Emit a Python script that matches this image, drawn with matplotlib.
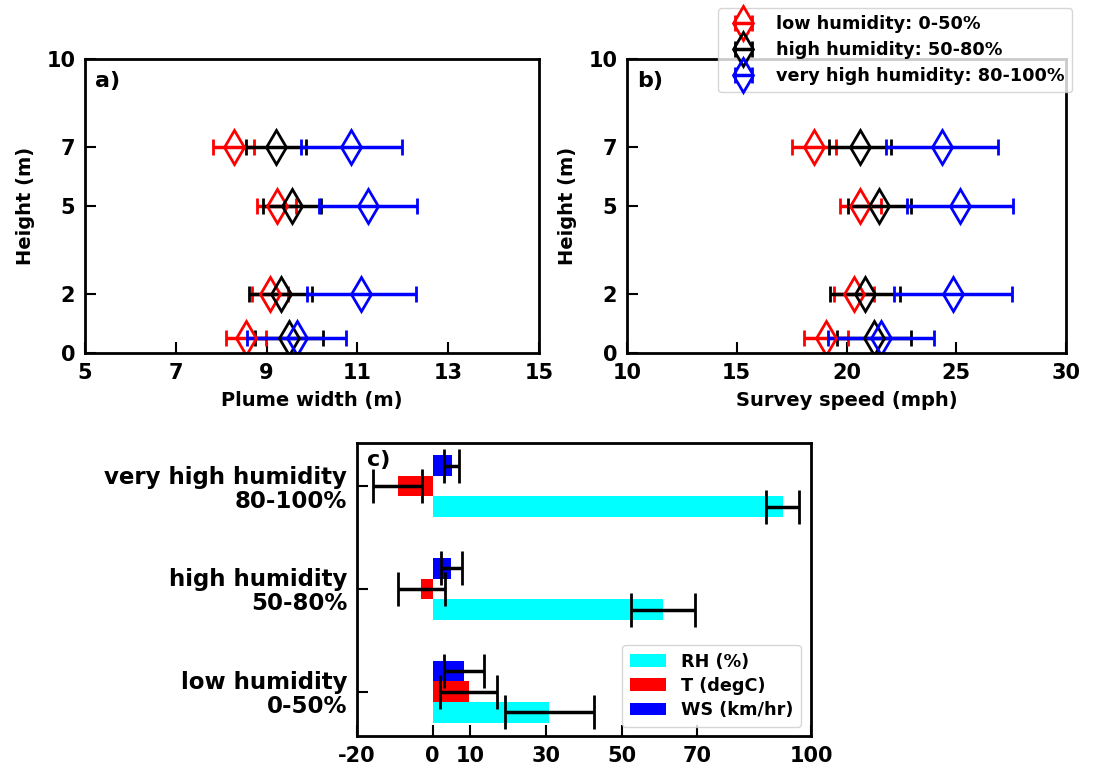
import numpy as np
import matplotlib
matplotlib.use("Agg")
import matplotlib.pyplot as plt

plt.rcParams["font.family"] = "DejaVu Sans"
plt.rcParams["font.weight"] = "bold"
plt.rcParams["axes.labelweight"] = "bold"
plt.rcParams["axes.unicode_minus"] = False

# heights (m)
heights = [0.5, 2, 5, 7]

# plume width (m): mean and error, per humidity class
width_low = [8.54, 9.08, 9.22, 8.28]
width_low_err = [0.44, 0.39, 0.42, 0.45]
width_high = [9.50, 9.31, 9.57, 9.20]
width_high_err = [0.75, 0.70, 0.64, 0.66]
width_vhigh = [9.66, 11.09, 11.24, 10.87]
width_vhigh_err = [1.10, 1.20, 1.08, 1.12]

# survey speed (mph)
speed_low = [19.08, 20.33, 20.63, 18.53]
speed_low_err = [1.00, 0.90, 0.94, 1.00]
speed_high = [21.25, 20.84, 21.50, 20.61]
speed_high_err = [1.67, 1.60, 1.45, 1.40]
speed_vhigh = [21.57, 24.85, 25.17, 24.34]
speed_vhigh_err = [2.43, 2.69, 2.40, 2.55]

series_labels = ["low humidity: 0-50%", "high humidity: 50-80%",
                 "very high humidity: 80-100%"]
series_colors = ["red", "black", "blue"]

# panel c: met conditions per humidity class (low, high, very high)
classes = ["low humidity\n0-50%", "high humidity\n50-80%",
           "very high humidity\n80-100%"]
rh = [30.8, 60.9, 92.5]
rh_err = [11.75, 8.45, 4.3]
temp = [9.5, -3.0, -9.25]
temp_err = [7.5, 6.2, 6.5]
ws = [8.4, 4.9, 5.0]
ws_err = [5.3, 2.8, 1.9]


def style_axes(ax):
    for s in ax.spines.values():
        s.set_linewidth(2)
    ax.tick_params(direction="in", length=8, width=1.5, labelsize=15, pad=7)


def plot_points(ax, data, xlabel, tag, xlim, xticks):
    for (vals, errs), color, label in zip(data, series_colors, series_labels):
        ax.errorbar(vals, heights, xerr=errs, fmt="d", color=color, mfc="none",
                    mec=color, mew=2, ms=17, elinewidth=2.5, capsize=5.5,
                    capthick=2, label=label)
    ax.set_xlim(*xlim)
    ax.set_xticks(xticks)
    ax.set_ylim(0, 10)
    ax.set_yticks([0, 2, 5, 7, 10])
    ax.set_xlabel(xlabel, fontsize=14, labelpad=6)
    ax.set_ylabel("Height (m)", fontsize=14, labelpad=8)
    ax.text(0.022, 0.96, tag, transform=ax.transAxes, fontsize=16,
            fontweight="bold", va="top", ha="left")
    style_axes(ax)


fig = plt.figure(figsize=(10.99, 7.66), dpi=100)
ax_a = fig.add_axes([0.0773, 0.5392, 0.4131, 0.3838])
ax_b = fig.add_axes([0.5705, 0.5392, 0.3995, 0.3838])
ax_c = fig.add_axes([0.3248, 0.0392, 0.4131, 0.3825])

plot_points(ax_a, [(width_low, width_low_err), (width_high, width_high_err),
                   (width_vhigh, width_vhigh_err)],
            "Plume width (m)", "a)", (5, 15), [5, 7, 9, 11, 13, 15])
plot_points(ax_b, [(speed_low, speed_low_err), (speed_high, speed_high_err),
                   (speed_vhigh, speed_vhigh_err)],
            "Survey speed (mph)", "b)", (10, 30), [10, 15, 20, 25, 30])
leg = ax_b.legend(loc="upper right", bbox_to_anchor=(1.0137, 1.173),
                  prop={"size": 12.7, "weight": "bold"}, handlelength=2.05,
                  handletextpad=0.85, labelspacing=0.45, borderpad=0.4,
                  borderaxespad=0)

# panel c
y = np.arange(len(classes))
h = 0.2
err_kw = dict(ecolor="black", elinewidth=2.5, capsize=12, capthick=2)
ax_c.barh(y - h, rh, height=h, color="cyan", xerr=rh_err, error_kw=err_kw,
          label="RH (%)")
ax_c.barh(y, temp, height=h, color="red", xerr=temp_err, error_kw=err_kw,
          label="T (degC)")
ax_c.barh(y + h, ws, height=h, color="blue", xerr=ws_err, error_kw=err_kw,
          label="WS (km/hr)")
ax_c.set_xlim(-20, 100)
ax_c.set_xticks([-20, 0, 10, 30, 50, 70, 100])
ax_c.set_ylim(-0.43, 2.42)
ax_c.set_yticks(y)
ax_c.set_yticklabels(classes, ha="right", linespacing=1.05)
ax_c.text(0.022, 0.975, "c)", transform=ax_c.transAxes, fontsize=16,
          fontweight="bold", va="top", ha="left")
style_axes(ax_c)
ax_c.tick_params(axis="y", labelsize=16.5)
ax_c.legend(loc="lower right", prop={"size": 12.7, "weight": "bold"},
            handlelength=2.0, handleheight=0.7, handletextpad=0.85,
            labelspacing=0.35, borderpad=0.45, borderaxespad=0,
            bbox_to_anchor=(0.978, 0.031))

fig.savefig("out.png", dpi=100)
